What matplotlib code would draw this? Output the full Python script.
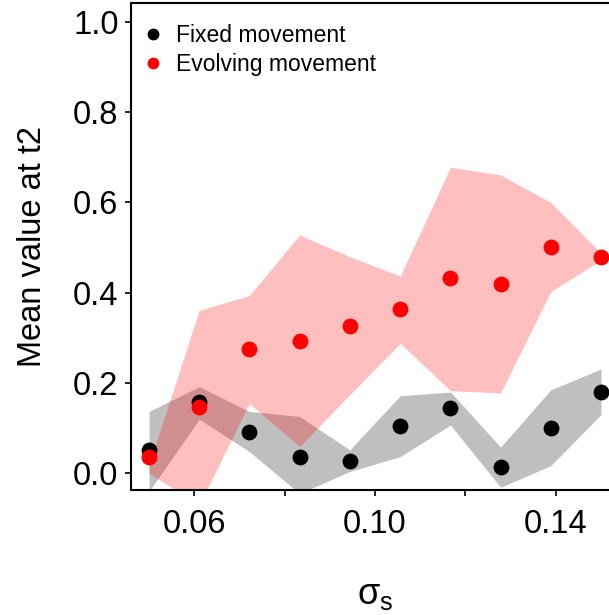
import numpy as np
import matplotlib
matplotlib.use("Agg")
import matplotlib.pyplot as plt
from matplotlib.lines import Line2D

plt.rcParams['font.family'] = ['Liberation Sans', 'DejaVu Sans']
plt.rcParams['mathtext.fontset'] = 'custom'
plt.rcParams['mathtext.rm'] = 'Liberation Sans'
plt.rcParams['mathtext.it'] = 'Liberation Sans'

# data
sigma_s = [0.05, 0.0611, 0.0722, 0.0833, 0.0944, 0.1056, 0.1167, 0.1278, 0.1389, 0.15]

fixed_mean = [0.052, 0.157, 0.091, 0.037, 0.027, 0.104, 0.144, 0.013, 0.101, 0.180]
fixed_lo = [-0.040, 0.120, 0.048, -0.045, 0.004, 0.037, 0.107, -0.031, 0.017, 0.130]
fixed_hi = [0.137, 0.192, 0.137, 0.126, 0.052, 0.172, 0.180, 0.058, 0.185, 0.231]

evol_mean = [0.036, 0.148, 0.275, 0.294, 0.326, 0.363, 0.432, 0.419, 0.501, 0.480]
evol_lo = [0.000, -0.070, 0.155, 0.059, 0.174, 0.288, 0.183, 0.178, 0.403, 0.472]
evol_hi = [0.020, 0.361, 0.394, 0.528, 0.480, 0.437, 0.678, 0.661, 0.600, 0.488]

fig = plt.figure(figsize=(6.09, 6.15), dpi=100)
ax = fig.add_axes([131 / 609, 125 / 615, 488 / 609, 487 / 615])

ax.fill_between(sigma_s, fixed_lo, fixed_hi, color='black', alpha=0.25, linewidth=0)
ax.fill_between(sigma_s, evol_lo, evol_hi, color='red', alpha=0.25, linewidth=0)
ax.scatter(sigma_s, fixed_mean, s=130, color='black', linewidths=0, zorder=3)
ax.scatter(sigma_s, evol_mean, s=130, color='red', linewidths=0, zorder=4)

ax.set_xlim(0.046, 0.154)
ax.set_ylim(-0.037, 1.042)

ax.set_xticks([0.06, 0.08, 0.10, 0.12, 0.14])
ax.set_xticklabels(['0.06', '', '0.10', '', '0.14'])
ax.set_yticks([0.0, 0.2, 0.4, 0.6, 0.8, 1.0])
ax.set_yticklabels(['0.0', '0.2', '0.4', '0.6', '0.8', '1.0'])
ax.tick_params(axis='both', labelsize=23.5, length=4, width=1.2, direction='out')
ax.tick_params(axis='x', pad=10)
ax.tick_params(axis='y', pad=5)

for sp in ax.spines.values():
    sp.set_linewidth(1.5)

ax.set_ylabel('Mean value at t2', fontsize=23.5, labelpad=18)
ax.set_xlabel(r'$\sigma_\mathrm{s}$', fontsize=26, labelpad=26)

handles = [Line2D([], [], marker='o', linestyle='none', color='black', markersize=7.5),
           Line2D([], [], marker='o', linestyle='none', color='red', markersize=7.5)]
ax.legend(handles, ['Fixed movement', 'Evolving movement'], loc='upper left',
          bbox_to_anchor=(0.021, 0.956), frameon=False, fontsize=16.5,
          handlelength=1.0, handletextpad=0.5, borderpad=0, borderaxespad=0,
          labelspacing=0.25)

fig.savefig('out.png', dpi=100)
